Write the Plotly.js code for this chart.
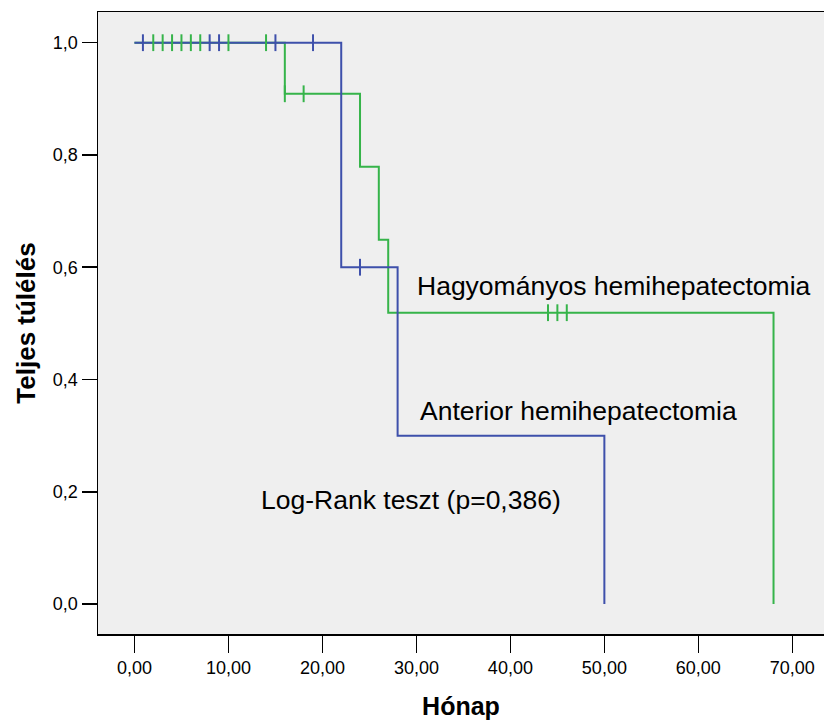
<!DOCTYPE html>
<html>
<head>
<meta charset="utf-8">
<script src="https://cdn.plot.ly/plotly-3.0.1.min.js"></script>
<style>body{margin:0;padding:0;background:#fff;}#chart{width:824px;height:725px;}</style>
</head>
<body>
<div id="chart"></div>
<script>
// Kaplan-Meier step data
const blueTimes = [0, 22, 28, 50];
const blueSurv  = [1.0, 0.6, 0.3, 0.0];
const greenTimes = [0, 16, 24, 26, 27, 68];
const greenSurv  = [1.0, 0.909, 0.779, 0.649, 0.519, 0.0];

// Censored observations
const blueCensorT = [0.9, 8, 9, 15, 19, 24];
const blueCensorS = [1.0, 1.0, 1.0, 1.0, 1.0, 0.6];
const greenCensorT = [2, 3, 4, 5, 6, 7, 10, 14, 16, 18, 44, 45, 46];
const greenCensorS = [1.0, 1.0, 1.0, 1.0, 1.0, 1.0, 1.0, 1.0, 0.909, 0.909, 0.519, 0.519, 0.519];

const xTicks = [0, 10, 20, 30, 40, 50, 60, 70];
const yTicks = [0, 0.2, 0.4, 0.6, 0.8, 1.0];

const labels = ["Hagyományos hemihepatectomia", "Anterior hemihepatectomia", "Log-Rank teszt (p=0,386)"];
const xTitle = "Hónap";
const yTitle = "Teljes túlélés";

const BLUE = '#3e50ab';
const GREEN = '#36b44a';
const FONT = 'Arial, "Liberation Sans", sans-serif';

const traces = [
  {x: greenTimes, y: greenSurv, mode: 'lines', line: {shape: 'hv', color: GREEN, width: 2}, hoverinfo: 'skip'},
  {x: blueTimes, y: blueSurv, mode: 'lines', line: {shape: 'hv', color: BLUE, width: 2}, hoverinfo: 'skip'},
  {x: greenCensorT, y: greenCensorS, mode: 'markers', marker: {symbol: 'line-ns', size: 12, line: {color: GREEN, width: 2}}, hoverinfo: 'skip'},
  {x: blueCensorT, y: blueCensorS, mode: 'markers', marker: {symbol: 'line-ns', size: 12, line: {color: BLUE, width: 2}}, hoverinfo: 'skip'}
];

const layout = {
  width: 824, height: 725,
  margin: {l: 98, r: 0, t: 12, b: 91},
  paper_bgcolor: '#ffffff',
  plot_bgcolor: '#efefef',
  showlegend: false,
  separators: ', ',
  font: {family: FONT, color: '#000'},
  xaxis: {
    range: [-3.88, 73.37],
    tickvals: xTicks,
    tickformat: '.2f',
    showgrid: false, zeroline: false,
    showline: true, mirror: true, linecolor: '#000', linewidth: 1.5,
    ticks: 'outside', ticklen: 17, tickwidth: 1.5, tickcolor: '#000',
    tickfont: {size: 18, family: FONT},
    title: {text: xTitle, font: {size: 25, family: FONT, weight: 'bold'}, standoff: 20}
  },
  yaxis: {
    range: [-0.0534, 1.0547],
    tickvals: yTicks,
    tickformat: '.1f',
    showgrid: false, zeroline: false,
    showline: true, mirror: false, linecolor: '#000', linewidth: 1.5,
    ticks: 'outside', ticklen: 15, tickwidth: 1.5, tickcolor: '#000',
    tickfont: {size: 18, family: FONT},
    title: {text: yTitle, font: {size: 26, family: FONT, weight: 'bold'}, standoff: 10}
  },
  annotations: [
    {x: 29.85, y: 0.5665, xref: 'x', yref: 'y', text: labels[0], showarrow: false, xanchor: 'left', yanchor: 'middle', font: {size: 26.5, family: FONT, color: '#000'}},
    {x: 30.17, y: 0.3438, xref: 'x', yref: 'y', text: labels[1], showarrow: false, xanchor: 'left', yanchor: 'middle', font: {size: 26.5, family: FONT, color: '#000'}},
    {x: 13.25, y: 0.1856, xref: 'x', yref: 'y', text: labels[2], showarrow: false, xanchor: 'left', yanchor: 'middle', font: {size: 26.5, family: FONT, color: '#000'}}
  ]
};

Plotly.newPlot('chart', traces, layout, {displayModeBar: false, staticPlot: true});
</script>
</body>
</html>
